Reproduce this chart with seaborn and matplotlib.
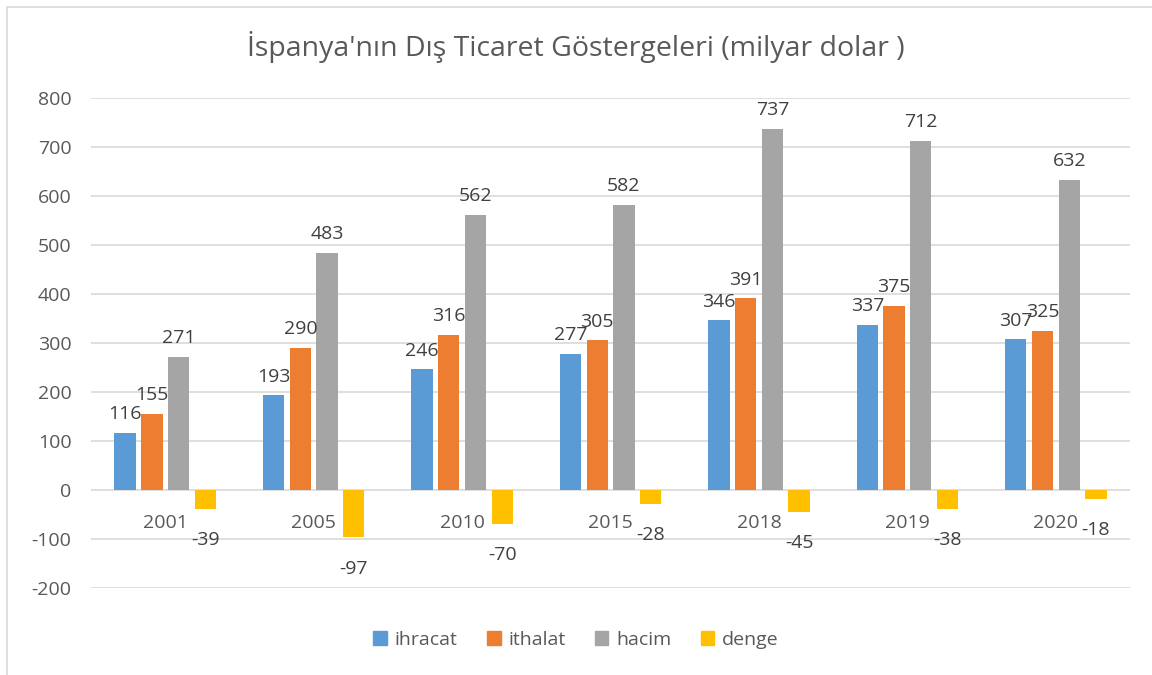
import pandas as pd
import matplotlib.pyplot as plt
import seaborn as sns
from matplotlib.patches import Rectangle

years = ['2001', '2005', '2010', '2015', '2018', '2019', '2020']
ihracat = [116, 193, 246, 277, 346, 337, 307]
ithalat = [155, 290, 316, 305, 391, 375, 325]
hacim = [271, 483, 562, 582, 737, 712, 632]
denge = [-39, -97, -70, -28, -45, -38, -18]

series = ['ihracat', 'ithalat', 'hacim', 'denge']
colors = ['#5B9BD5', '#ED7D31', '#A5A5A5', '#FFC000']

df = pd.DataFrame({'yil': years * 4,
                   'seri': [s for s in series for _ in years],
                   'deger': ihracat + ithalat + hacim + denge})

sns.set_style('white')
plt.rcParams['font.family'] = ['Open Sans', 'DejaVu Sans']
plt.rcParams['axes.unicode_minus'] = False
txt = '#595959'

fig = plt.figure(figsize=(11.52, 6.75), dpi=100)
ax = fig.add_axes([0.079, 0.129, 0.902, 0.726])
fig.patches.append(Rectangle((0.006, -0.01), 1.0, 1.0, transform=fig.transFigure,
                             fill=False, edgecolor='#D9D9D9', linewidth=1.2))

sns.barplot(data=df, x='yil', y='deger', hue='seri', palette=colors,
            saturation=1, linewidth=0, width=0.72, gap=0.2, ax=ax, legend=False)

# etiketler: pozitifler ustte, denge (negatif) altta
for cont, s in zip(ax.containers, series):
    pad = 16 if s == 'denge' else 7
    ax.bar_label(cont, fmt='%d', padding=pad, fontsize=14, color='#404040')

ax.set_ylim(-200, 800)
ax.set_yticks(range(-200, 801, 100))
ax.tick_params(axis='y', labelsize=14, labelcolor=txt, length=0, pad=14)
ax.set_xticks([])
ax.grid(axis='y', color='#D9D9D9', linewidth=1.2)
ax.set_axisbelow(True)
for sp in ax.spines.values():
    sp.set_visible(False)
ax.set_xlabel('')
ax.set_ylabel('')

for i, y in enumerate(years):
    ax.annotate(y, xy=(i, 0), xytext=(0, -24), textcoords='offset points',
                ha='center', va='center', fontsize=14, color=txt)

fig.text(0.5, 0.93, "İspanya'nın Dış Ticaret Göstergeleri (milyar dolar )",
         ha='center', va='center', fontsize=20.5, color=txt)

handles = [Rectangle((0, 0), 1, 1, color=c) for c in colors]
fig.legend(handles, series, loc='center', bbox_to_anchor=(0.5, 0.052), ncol=4,
           frameon=False, fontsize=14, handlelength=0.7, handleheight=0.7,
           columnspacing=1.5, handletextpad=0.4, labelcolor=txt)

fig.savefig('out.png', dpi=100)
